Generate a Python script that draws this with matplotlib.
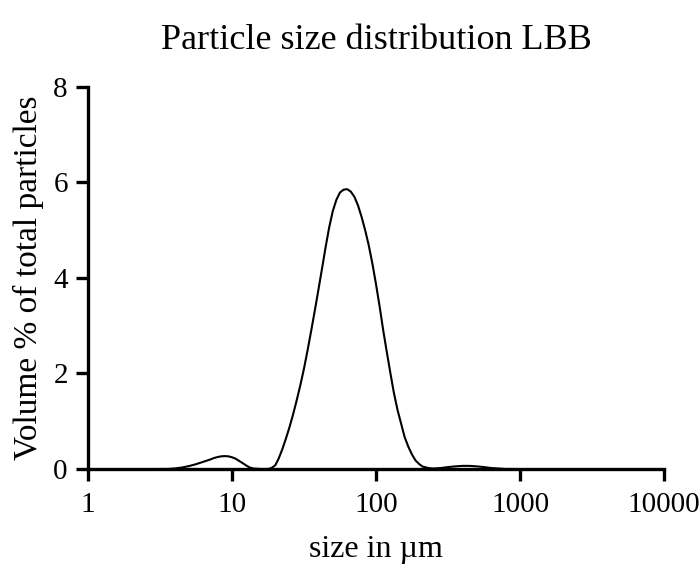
import matplotlib.pyplot as plt

plt.rcParams["font.family"] = ["Liberation Serif", "DejaVu Serif"]

# particle sizes (um) and volume fraction (%) per size class
size_um = [
    3.16, 3.55, 3.98, 4.47, 5.01, 5.62, 6.31, 7.08, 7.50, 7.94,
    8.41, 8.91, 9.44, 10.0, 10.6, 11.2, 11.9, 12.6, 13.3, 14.1,
    15.8, 17.8, 18.8, 20.0, 21.1, 22.4, 23.7, 25.1, 26.6, 28.2,
    29.9, 31.6, 33.5, 35.5, 37.6, 39.8, 42.2, 44.7, 47.3, 50.1,
    53.1, 56.2, 59.6, 63.1, 66.8, 70.8, 75.0, 79.4, 84.1, 89.1,
    94.4, 100.0, 106.0, 112.0, 119.0, 126.0, 133.0, 141.0, 150.0, 158.0,
    168.0, 178.0, 188.0, 200.0, 211.0, 224.0, 237.0, 251.0, 282.0, 316.0,
    355.0, 398.0, 447.0, 501.0, 562.0, 631.0, 708.0, 794.0, 891.0,
]
volume_pct = [
    0.00, 0.00, 0.01, 0.03, 0.06, 0.10, 0.15, 0.20, 0.23, 0.25,
    0.265, 0.27, 0.265, 0.245, 0.215, 0.17, 0.12, 0.07, 0.03, 0.01,
    0.00, 0.00, 0.02, 0.08, 0.22, 0.42, 0.64, 0.88, 1.15, 1.45,
    1.77, 2.10, 2.49, 2.90, 3.32, 3.75, 4.20, 4.65, 5.06, 5.40,
    5.64, 5.79, 5.85, 5.86, 5.81, 5.70, 5.52, 5.28, 5.00, 4.68,
    4.30, 3.87, 3.40, 2.92, 2.44, 2.00, 1.60, 1.24, 0.93, 0.67,
    0.46, 0.30, 0.18, 0.10, 0.05, 0.03, 0.015, 0.01, 0.02, 0.04,
    0.055, 0.065, 0.065, 0.055, 0.04, 0.02, 0.01, 0.00, 0.00,
]
x_ticks = [1, 10, 100, 1000, 10000]
y_ticks = [0, 2, 4, 6, 8]

fig = plt.figure(figsize=(7, 5.66), dpi=100)
ax = fig.add_axes([0.1257, 0.1714, 0.8229, 0.6749])

ax.plot(size_um, volume_pct, color="black", linewidth=1.5, solid_joinstyle="round")

ax.set_xscale("log")
ax.set_xlim(1, 10000)
ax.set_ylim(0, 8)
ax.set_xticks(x_ticks)
ax.set_xticklabels([str(t) for t in x_ticks])
ax.set_yticks(y_ticks)
ax.set_yticklabels([str(t) for t in y_ticks])
ax.minorticks_off()

for side in ("top", "right"):
    ax.spines[side].set_visible(False)
for side in ("left", "bottom"):
    ax.spines[side].set_linewidth(2.4)
ax.tick_params(direction="out", length=8.5, width=2.4, labelsize=21, pad=6)
ax.tick_params(axis="x", pad=8)

ax.set_xlabel("size in µm", fontsize=23, labelpad=12)
ax.set_ylabel("Volume % of total particles", fontsize=24, labelpad=7)
ax.set_title("Particle size distribution LBB", fontsize=26, pad=27)

fig.savefig("out.png", dpi=100)
